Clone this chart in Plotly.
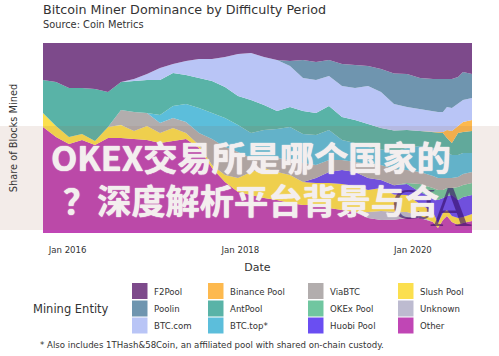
import plotly.graph_objects as go

dates = ["2015-09-19","2015-11-13","2016-01-07","2016-03-02","2016-04-26","2016-06-20","2016-08-14","2016-10-08",
         "2016-12-02","2017-01-26","2017-03-22","2017-05-16","2017-07-10","2017-09-03","2017-10-28","2017-12-22",
         "2018-02-15","2018-04-11","2018-06-05","2018-07-30","2018-09-23","2018-11-17","2019-01-11","2019-03-07",
         "2019-05-01","2019-06-25","2019-08-19","2019-10-13","2019-12-07","2020-01-31","2020-03-26","2020-04-16",
         "2020-05-07","2020-05-24","2020-06-14","2020-07-10","2020-07-31","2020-09-07"]

f2pool = [37,39,45,45,46,49,39,36,31,25,21,18,16,16,14,11,10,14,17,18,17,19,17,21,22,23,26,30,31,35,36,36,36,36,36,34,29,31]
poolin = [0]*19 + [5,18,18,16,22,23,20,23,30,33,31,32,33,33,28,29,27,28,24]
btc_com = [0]*7 + [2,6,12,9,14,19,22,30,42,47,48,51,41,33,33,30,31,32,38,36,26,23,22,21,20,20,23,23,22,22,22]
binance = [0]*32 + [1,8,12,7,10,11]
antpool = [33,44,49,46,52,35,28,31,33,35,33,29,30,32,31,29,33,25,18,20,23,22,24,23,23,23,21,21,18,15,16,18,17,14,12,22,21,22]
btc_top = [0]*9 + [8,12,18,25,26,29,27,25,26,29,33,29,30,30,20,19,17,16,17,22,26,28,28,28,26,23,22,21,19]
viabtc = [0]*6 + [15,19,13,10,10,11,12,26,28,26,14,12,14,15,19,13,12,10,10,14,15,16,13,12,12,12,12,10,10,10,11,11]
okex = [0]*28 + [1,8,10,10,8,8,7,13,12,12]
huobi = [0]*21 + [5,11,14,14,12,8,9,11,12,14,23,15,14,21,18,20,19]
slush = [14,11,7,6,4,11,13,8,14,10,13,6,3,3,7,14,23,30,28,28,23,22,25,26,26,22,23,17,17,12,10,5,7,6,6,7,6,7]
unknown = [0]*25 + [6,9,8,6,2] + [0]*8
other = [106,96,89,93,88,95,95,94,93,90,92,94,85,65,51,41,38,35,33,30,28,28,25,23,21,15,13,13,15,15,11,5,13,17,11,8,10,12]

legend_columns = [["F2Pool","Poolin","BTC.com"],["Binance Pool","AntPool","BTC.top*"],
                  ["ViaBTC","OKEx Pool","Huobi Pool"],["Slush Pool","Unknown","Other"]]
colors = {"F2Pool":"#7d4a8b","Poolin":"#6f95af","BTC.com":"#b9c5f6","Binance Pool":"#fdb94e","AntPool":"#59b3a7",
          "BTC.top*":"#5cbedb","ViaBTC":"#b2adad","OKEx Pool":"#70c6a0","Huobi Pool":"#6a4ef2","Slush Pool":"#fbdf4e",
          "Unknown":"#bdbbd0","Other":"#c046b5"}
series = {"Other":other,"Unknown":unknown,"Slush Pool":slush,"Huobi Pool":huobi,"OKEx Pool":okex,"ViaBTC":viabtc,
          "BTC.top*":btc_top,"AntPool":antpool,"Binance Pool":binance,"BTC.com":btc_com,"Poolin":poolin,"F2Pool":f2pool}

W, H, L, R, T, B = 499, 356, 43, 472, 43, 233
px = lambda x: (x - L) / (R - L)
py = lambda y: (B - y) / (B - T)

fig = go.Figure()
for name, vals in series.items():
    fig.add_trace(go.Scatter(x=dates, y=vals, name=name, mode="lines", stackgroup="one", groupnorm="percent",
                             line=dict(width=0, color=colors[name]), fillcolor=colors[name], showlegend=False))

TXT = "#333333"
FONT = "DejaVu Sans"
shapes = [dict(type="rect", xref="paper", yref="paper", x0=px(0), x1=px(W), y0=py(126), y1=py(230),
               fillcolor="rgba(155,97,72,0.12)", line_width=0, layer="above")]
ann = []
def text(x, y, s, size, anchor="left", color=TXT, font=FONT, shadow=None):
    f = dict(size=size, color=color, family=font)
    if shadow:
        f["shadow"] = shadow
    ann.append(dict(xref="paper", yref="paper", x=px(x), y=py(y), text=s, showarrow=False, xanchor=anchor,
                    yanchor="middle", font=f, borderpad=0, borderwidth=0))

text(43, 10, "Bitcoin Miner Dominance by Difficulty Period", 12.7)
text(43, 24.5, "Source: Coin Metrics", 9.8)
text(33, 309, "Mining Entity", 11.5)
text(40, 345, "* Also includes 1THash&58Coin, an affiliated pool with shared on-chain custody.", 8.6)

swatch_x = [132, 208, 308, 398]
label_x = [153.5, 230, 330, 420]
row_y = [283, 300.5, 317.5]
for c, col in enumerate(legend_columns):
    for r, nm in enumerate(col):
        shapes.append(dict(type="rect", xref="paper", yref="paper", x0=px(swatch_x[c]), x1=px(swatch_x[c] + 15.5),
                           y0=py(row_y[r]), y1=py(row_y[r] + 16), fillcolor=colors[nm], line_width=0))
        text(label_x[c], row_y[r] + 8.5, nm, 8.6)

WM = "rgba(50,10,100,0.6)"
text(406, 204, "C", 44, "center", WM, "Liberation Sans Narrow")
text(426, 204, "J", 44, "center", WM, "Liberation Sans Narrow")
text(451, 206, "A", 58, "center", WM, "Liberation Sans Narrow")
BIG = "#f3eeee"
GLOW = "0 0 1px #f3eeee, 0 0 1px #f3eeee"
text(51, 156, "<b>OKEX交易所是哪个国家的</b>", 34.2, "left", BIG, "Noto Sans CJK SC", GLOW)
text(63, 199, "<b>？深度解析平台背景与合</b>", 34.2, "left", BIG, "Noto Sans CJK SC", GLOW)

fig.update_layout(width=W, height=H, autosize=False, margin=dict(l=L, r=W-R, t=T, b=H-B),
                  paper_bgcolor="white", plot_bgcolor="white", shapes=shapes, annotations=ann,
                  font=dict(family=FONT, color=TXT), showlegend=False)
fig.update_xaxes(range=[dates[0], dates[-1]], tickvals=["2016-01-01","2018-01-01","2020-01-01"],
                 ticktext=["Jan 2016","Jan 2018","Jan 2020"], ticks="", showgrid=False, zeroline=False,
                 showline=False, tickfont=dict(size=8.6, color=TXT), ticklabelstandoff=10,
                 title=dict(text="Date", font=dict(size=11, color=TXT), standoff=9))
fig.update_yaxes(range=[0,100], showticklabels=False, ticks="", showgrid=False, zeroline=False, showline=False,
                 title=dict(text="Share of Blocks Mined", font=dict(size=9.8, color=TXT), standoff=22))
fig.write_html("out.html", config=dict(displayModeBar=False), post_script="document.body.style.margin='0';")
